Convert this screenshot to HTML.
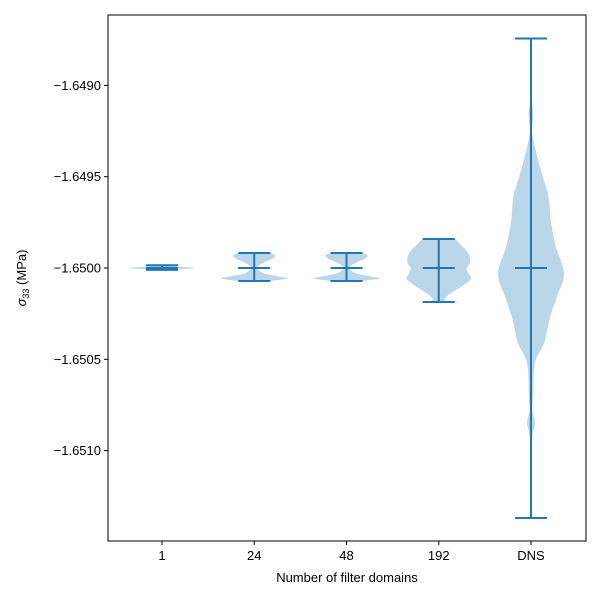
<!DOCTYPE html>
<html><head><meta charset="utf-8"><style>
html,body{margin:0;padding:0;background:#fff;}
svg text{font-family:"Liberation Sans","DejaVu Sans",sans-serif;fill:#000;}
</style></head><body>
<svg id="chart" width="600" height="600" xmlns="http://www.w3.org/2000/svg"></svg>
<script>
const categories = ["1","24","48","192","DNS"];
const means = [-1.65, -1.65, -1.65, -1.65, -1.65];
const mins = [-1.650010, -1.650071, -1.650071, -1.650186, -1.651369];
const maxs = [-1.649985, -1.649918, -1.649918, -1.649841, -1.648743];
// density profiles: [value, relative half-width 0..1]
const density1 = [[-1.650012,0],[-1.650008,0.4],[-1.650000,1],[-1.649992,0.4],[-1.649988,0]];
const density24 = [[-1.650071,0.5],[-1.650062,0.9],[-1.650055,1],[-1.650045,0.7],[-1.650030,0.3],[-1.650010,0.12],[-1.649990,0.12],[-1.649970,0.3],[-1.649950,0.55],[-1.649935,0.64],[-1.649925,0.6],[-1.649918,0.5]];
const density48 = [[-1.650071,0.5],[-1.650062,0.9],[-1.650055,1],[-1.650045,0.7],[-1.650030,0.3],[-1.650010,0.12],[-1.649990,0.12],[-1.649970,0.3],[-1.649950,0.55],[-1.649935,0.64],[-1.649925,0.6],[-1.649918,0.5]];
const density192 = [[-1.650186,0.25],[-1.650170,0.18],[-1.650140,0.35],[-1.650100,0.7],[-1.650060,0.97],[-1.650030,0.9],[-1.650000,0.85],[-1.649970,0.95],[-1.649920,0.9],[-1.649870,0.65],[-1.649841,0.5]];
const densityDNS = [[-1.651369,0.02],[-1.651070,0.02],[-1.650920,0.04],[-1.650850,0.12],[-1.650780,0.04],[-1.650710,0.06],[-1.650520,0.12],[-1.650410,0.4],[-1.650280,0.56],[-1.650160,0.78],[-1.650030,1],[-1.649880,0.75],[-1.649740,0.6],[-1.649610,0.53],[-1.649470,0.31],[-1.649340,0.12],[-1.649250,0.03],[-1.649160,0.07],[-1.649070,0.03],[-1.648830,0.03],[-1.648743,0.02]];
const densities = [density1, density24, density48, density192, densityDNS];
const yTicks = [-1.6490, -1.6495, -1.6500, -1.6505, -1.6510];
const yTickLabels = ["\u22121.6490","\u22121.6495","\u22121.6500","\u22121.6505","\u22121.6510"];

const L=108,R=586,T=15,B=541;
const svg=document.getElementById('chart');
const NS="http://www.w3.org/2000/svg";
function y(v){return 268-(v+1.65)/0.0005*91.3;}
function x(i){return 162+i*92.25;}
const maxHalf=33;
function mk(tag,attrs,parent){const e=document.createElementNS(NS,tag);for(const k in attrs)e.setAttribute(k,attrs[k]);(parent||svg).appendChild(e);return e;}
function smooth(pts){
  let s="M"+pts[0][0].toFixed(1)+","+pts[0][1].toFixed(1);
  for(let i=0;i<pts.length-1;i++){
    const p0=pts[Math.max(0,i-1)],p1=pts[i],p2=pts[i+1],p3=pts[Math.min(pts.length-1,i+2)];
    const c1=[p1[0]+(p2[0]-p0[0])/6,p1[1]+(p2[1]-p0[1])/6];
    const c2=[p2[0]-(p3[0]-p1[0])/6,p2[1]-(p3[1]-p1[1])/6];
    s+="C"+c1.map(n=>n.toFixed(1)).join(",")+" "+c2.map(n=>n.toFixed(1)).join(",")+" "+p2.map(n=>n.toFixed(1)).join(",");
  }
  return s;
}

categories.forEach((c,i)=>{
  const cx=x(i);
  const d=densities[i];
  const right=d.map(p=>[cx+p[1]*maxHalf,y(p[0])]);
  const left=d.slice().reverse().map(p=>[cx-p[1]*maxHalf,y(p[0])]);
  const path=smooth(right)+"L"+smooth(left).slice(1)+"Z";
  const body=mk('path',{d:path,fill:'#1f77b4','fill-opacity':0.3,stroke:'none'});
  
  
  const g=mk('g',{stroke:'#1f77b4','stroke-width':2});
  
  
  mk('line',{x1:cx,x2:cx,y1:y(mins[i]),y2:y(maxs[i])},g);
  [mins[i],maxs[i],means[i]].forEach(v=>mk('line',{x1:cx-16,x2:cx+16,y1:y(v),y2:y(v)},g));
});

const frame=mk('rect',{x:L,y:T,width:R-L,height:B-T,fill:'none',stroke:'#000','stroke-width':1});



yTicks.forEach((v,i)=>{
  const yy=y(v);
  mk('line',{x1:L-4,x2:L,y1:yy,y2:yy,stroke:'#000','stroke-width':1});
  const t=mk('text',{x:L-7,y:yy+4.5,'text-anchor':'end','font-size':13});
  t.textContent=yTickLabels[i];
  
  
});
categories.forEach((c,i)=>{
  const xx=x(i);
  mk('line',{x1:xx,x2:xx,y1:B,y2:B+4,stroke:'#000','stroke-width':1});
  const t=mk('text',{x:xx,y:B+19,'text-anchor':'middle','font-size':13});
  t.textContent=c;
  
  
});
const xt=mk('text',{x:(L+R)/2,y:582,'text-anchor':'middle','font-size':13});
xt.textContent="Number of filter domains";


const yt=mk('text',{x:0,y:0,'text-anchor':'middle','font-size':13,transform:'translate(26,278) rotate(-90)'});
yt.innerHTML='<tspan font-style="italic">σ</tspan><tspan font-size="9" dy="3">33</tspan><tspan dy="-3"> (MPa)</tspan>';


</script>
</body></html>
